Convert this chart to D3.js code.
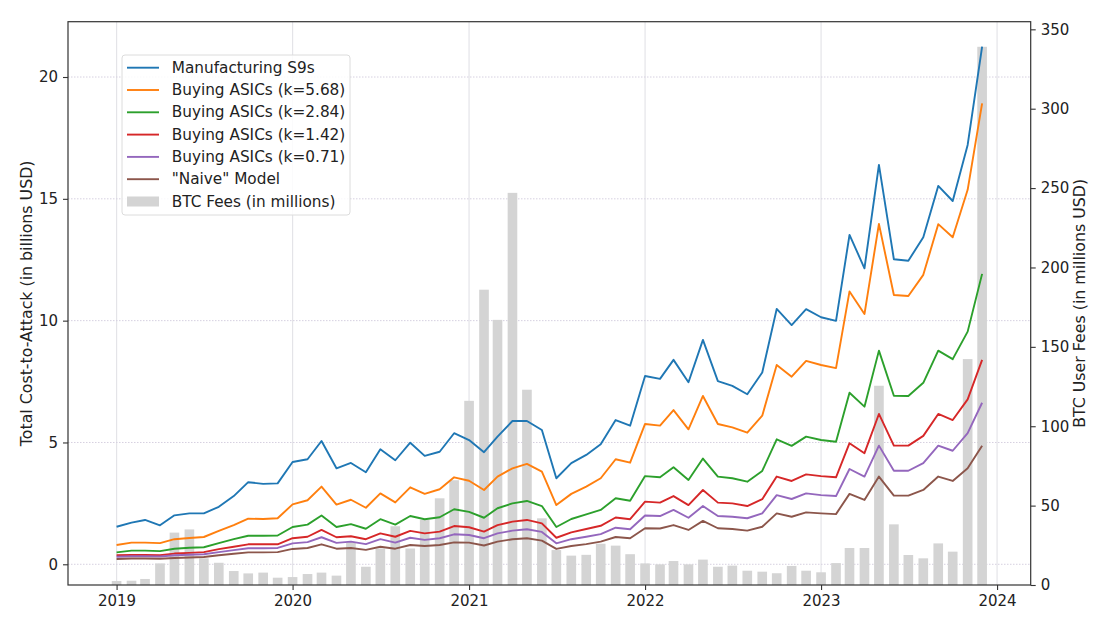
<!DOCTYPE html>
<html>
<head>
<meta charset="utf-8">
<script src="https://cdn.jsdelivr.net/npm/d3@7"></script>
<style>
  html, body { margin: 0; padding: 0; background: #fff; }
  svg { display: block; font-family: "DejaVu Sans", sans-serif; }
</style>
</head>
<body>
<svg id="chart" width="1095" height="630"></svg>
<script>
// ---------------- data ----------------
const startMonth = "2019-01";
const monthCount = 60;
const seriesNames = ["Manufacturing S9s", "Buying ASICs (k=5.68)", "Buying ASICs (k=2.84)", "Buying ASICs (k=1.42)", "Buying ASICs (k=0.71)", "\"Naive\" Model"];
const seriesColors = ["#1f77b4", "#ff7f0e", "#2ca02c", "#d62728", "#9467bd", "#8c564b"];
const feesLabel = "BTC Fees (in millions)";

const s9s = [1.54,1.71,1.82,1.60,2.01,2.09,2.09,2.36,2.80,3.37,3.30,3.32,
  4.20,4.31,5.06,3.94,4.16,3.78,4.72,4.27,4.99,4.45,4.62,5.38,
  5.10,4.60,5.24,5.88,5.88,5.51,3.53,4.15,4.49,4.93,5.92,5.69,
  7.73,7.61,8.39,7.47,9.21,7.52,7.32,6.98,7.87,10.48,9.82,10.47,
  10.14,9.99,13.52,12.15,16.39,12.52,12.46,13.42,15.53,14.91,17.21,21.25];
const k568 = [0.79,0.89,0.89,0.87,1.03,1.08,1.12,1.37,1.61,1.87,1.86,1.89,
  2.46,2.63,3.19,2.45,2.65,2.32,2.91,2.54,3.16,2.89,3.08,3.57,
  3.43,3.05,3.60,3.94,4.12,3.80,2.43,2.89,3.19,3.53,4.31,4.17,
  5.76,5.69,6.33,5.54,6.91,5.76,5.62,5.40,6.10,8.18,7.70,8.35,
  8.18,8.05,11.20,10.27,13.97,11.05,11.01,11.88,13.96,13.42,15.37,18.92];
const k284 = [0.49,0.56,0.56,0.54,0.64,0.68,0.70,0.87,1.03,1.17,1.17,1.18,
  1.53,1.63,2.00,1.53,1.65,1.46,1.85,1.63,1.98,1.85,1.93,2.26,
  2.15,1.91,2.30,2.50,2.60,2.39,1.53,1.86,2.05,2.23,2.71,2.61,
  3.62,3.57,3.98,3.46,4.34,3.60,3.53,3.39,3.83,5.13,4.86,5.24,
  5.10,5.03,7.04,6.47,8.77,6.92,6.91,7.45,8.77,8.42,9.55,11.92];
const k142 = [0.37,0.38,0.38,0.37,0.44,0.47,0.50,0.62,0.72,0.82,0.82,0.82,
  1.07,1.13,1.41,1.11,1.15,1.03,1.27,1.13,1.37,1.27,1.34,1.57,
  1.52,1.34,1.61,1.75,1.82,1.68,1.09,1.31,1.45,1.58,1.92,1.85,
  2.57,2.53,2.80,2.43,3.05,2.53,2.50,2.39,2.67,3.60,3.42,3.69,
  3.62,3.57,4.97,4.56,6.17,4.87,4.87,5.27,6.17,5.92,6.77,8.39];
const k071 = [0.31,0.33,0.33,0.32,0.37,0.39,0.41,0.50,0.58,0.66,0.66,0.67,
  0.86,0.91,1.11,0.88,0.93,0.83,1.03,0.89,1.09,1.00,1.07,1.23,
  1.20,1.07,1.27,1.38,1.44,1.33,0.86,1.03,1.13,1.24,1.50,1.44,
  2.00,1.98,2.23,1.91,2.39,1.98,1.95,1.89,2.09,2.84,2.68,2.91,
  2.84,2.80,3.91,3.60,4.87,3.84,3.84,4.15,4.87,4.66,5.38,6.63];
const naive = [0.22,0.24,0.24,0.23,0.26,0.28,0.30,0.37,0.43,0.49,0.49,0.50,
  0.63,0.67,0.82,0.64,0.67,0.59,0.72,0.64,0.79,0.75,0.79,0.90,
  0.89,0.77,0.93,1.03,1.07,0.97,0.63,0.75,0.83,0.93,1.12,1.07,
  1.48,1.47,1.61,1.41,1.78,1.48,1.45,1.38,1.54,2.09,1.95,2.13,
  2.09,2.06,2.89,2.64,3.60,2.82,2.82,3.05,3.60,3.42,3.94,4.87];
const fees = [2.5,2.7,3.8,13.6,33,35,16.8,14,8.8,7.3,7.8,4.6,
  5.0,6.9,7.8,5.9,27,11.5,23,37,23,41,54.6,66,
  116,186,167,247,123,42,22,18.5,19,26,24.8,19.4,
  13.6,13,15.1,13,16,11.5,12.2,9,8.4,7.4,12,9,
  8,13.8,23.3,23.3,125.5,38.2,18.9,16.8,26.2,21,142.3,339];
const leftTicks = [0, 5, 10, 15, 20];
const rightTicks = [0, 50, 100, 150, 200, 250, 300, 350];
const yearTicks = [2019, 2020, 2021, 2022, 2023, 2024];
const leftLabel = "Total Cost-to-Attack (in billions USD)";
const rightLabel = "BTC User Fees (in millions USD)";

// ---------------- chart ----------------
const W = 1095, H = 630;
const M = { left: 68, top: 21.7, right: 64.3, bottom: 45 };
const svg = d3.select("#chart");

const parse = d3.timeParse("%Y-%m");
const t0 = parse(startMonth);
const dates = d3.range(monthCount).map(i => d3.timeMonth.offset(t0, i));
const allSeries = [s9s, k568, k284, k142, k071, naive];

const barHalf = 10 * 864e5;
const lo = +dates[0] - barHalf, hi = +dates[dates.length - 1] + barHalf;
const pad = (hi - lo) * 0.05;
const x = d3.scaleTime().domain([new Date(lo - pad), new Date(hi + pad)]).range([M.left, W - M.right]);
const yL = d3.scaleLinear().domain([-0.85, 22.27]).range([H - M.bottom, M.top]);
const yR = d3.scaleLinear().domain([0, 354.8]).range([H - M.bottom, M.top]);

const plotL = M.left, plotR = W - M.right, plotT = M.top, plotB = H - M.bottom;

// grid
const grid = svg.append("g");
grid.selectAll("line.v").data(yearTicks).join("line")
  .attr("x1", d => x(new Date(d, 0, 1))).attr("x2", d => x(new Date(d, 0, 1)))
  .attr("y1", plotT).attr("y2", plotB)
  .attr("stroke", "#e4e4e8").attr("stroke-width", 1.2);
grid.selectAll("line.h").data(leftTicks).join("line")
  .attr("x1", plotL).attr("x2", plotR)
  .attr("y1", d => yL(d)).attr("y2", d => yL(d))
  .attr("stroke", "#d6d0e0").attr("stroke-width", 1).attr("stroke-dasharray", "1.5,1.5");

// bars
const barW = x(new Date(+dates[0] + 2 * barHalf)) - x(dates[0]);
svg.append("g").selectAll("rect").data(fees).join("rect")
  .attr("x", (d, i) => x(dates[i]) - barW / 2)
  .attr("width", barW)
  .attr("y", d => yR(d))
  .attr("height", d => yR(0) - yR(d))
  .attr("fill", "#d4d4d4");

// lines
const line = d3.line().x((d, i) => x(dates[i])).y(d => yL(d));
svg.append("g").selectAll("path").data(allSeries).join("path")
  .attr("d", d => line(d))
  .attr("fill", "none")
  .attr("stroke", (d, i) => seriesColors[i])
  .attr("stroke-width", 1.9)
  .attr("stroke-linejoin", "round");

// frame
svg.append("rect").attr("x", plotL).attr("y", plotT)
  .attr("width", plotR - plotL).attr("height", plotB - plotT)
  .attr("fill", "none").attr("stroke", "#333").attr("stroke-width", 1.2);

// axes
const fs = 15;
const axB = svg.append("g").attr("transform", `translate(0,${plotB})`)
  .call(d3.axisBottom(x).tickValues(yearTicks.map(y => new Date(y, 0, 1))).tickFormat(d3.timeFormat("%Y")).tickSize(5).tickPadding(5));
const axL = svg.append("g").attr("transform", `translate(${plotL},0)`)
  .call(d3.axisLeft(yL).tickValues(leftTicks).tickSize(5).tickPadding(5));
const axR = svg.append("g").attr("transform", `translate(${plotR},0)`)
  .call(d3.axisRight(yR).tickValues(rightTicks).tickSize(5).tickPadding(5));
[axB, axL, axR].forEach(a => {
  a.select(".domain").remove();
  a.selectAll(".tick line").attr("stroke", "#333").attr("stroke-width", 1.1);
  a.selectAll(".tick text").attr("fill", "#222").style("font-size", fs + "px").style("font-family", "DejaVu Sans");
});

// axis labels
svg.append("text").attr("transform", `translate(27,${(plotT + plotB) / 2}) rotate(-90)`)
  .attr("text-anchor", "middle").attr("dominant-baseline", "middle")
  .attr("fill", "#222").style("font-size", "15.8px").text(leftLabel);
svg.append("text").attr("transform", `translate(1080,${(plotT + plotB) / 2}) rotate(-90)`)
  .attr("text-anchor", "middle").attr("dominant-baseline", "middle")
  .attr("fill", "#222").style("font-size", "15.8px").text(rightLabel);

// legend
const lg = svg.append("g").attr("transform", "translate(122,55)");
lg.append("rect").attr("width", 228).attr("height", 160).attr("rx", 3)
  .attr("fill", "rgba(255,255,255,0.85)").attr("stroke", "#dcdcdc");
const rowH = 22.3;
const lfs = 15.3;
seriesNames.forEach((name, i) => {
  const yy = 12.7 + i * rowH;
  lg.append("line").attr("x1", 5).attr("x2", 37).attr("y1", yy).attr("y2", yy)
    .attr("stroke", seriesColors[i]).attr("stroke-width", 1.9);
  lg.append("text").attr("x", 49.7).attr("y", yy).attr("dominant-baseline", "central")
    .attr("fill", "#222").style("font-size", lfs + "px").text(name);
});
const yb = 12.7 + 6 * rowH;
lg.append("rect").attr("x", 5).attr("y", yb - 5).attr("width", 32).attr("height", 10).attr("fill", "#d4d4d4");
lg.append("text").attr("x", 49.7).attr("y", yb).attr("dominant-baseline", "central")
  .attr("fill", "#222").style("font-size", lfs + "px").text(feesLabel);
</script>
</body>
</html>
